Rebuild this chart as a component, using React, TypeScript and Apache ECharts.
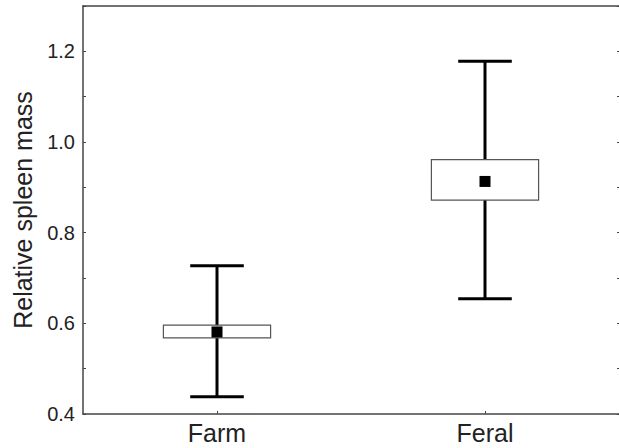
import React, { useEffect, useRef } from "react";
import * as echarts from "echarts";

const categories = ["Farm", "Feral"];
const whiskerLow = [0.438, 0.654];
const boxLow = [0.568, 0.872];
const meanValue = [0.581, 0.913];
const boxHigh = [0.596, 0.961];
const whiskerHigh = [0.727, 1.178];
const yTicks = [0.4, 0.6, 0.8, 1.0, 1.2];

export default function App() {
  const ref = useRef<HTMLDivElement>(null);
  useEffect(() => {
    if (!ref.current) return;
    const chart = echarts.init(ref.current, null, { renderer: "svg" });
    const data = categories.map((c, i) => [i, whiskerLow[i], boxLow[i], meanValue[i], boxHigh[i], whiskerHigh[i]]);
    const axisColor = "#444";
    const textColor = "#222";
    const font = "Liberation Sans";
    chart.setOption({
      animation: false,
      backgroundColor: "#fff",
      grid: { left: 83, right: 0, top: 6, bottom: 34 },
      xAxis: [
        {
          type: "category",
          data: categories,
          position: "bottom",
          boundaryGap: true,
          axisLine: { show: true, lineStyle: { color: axisColor, width: 1.5 } },
          axisTick: { show: true, inside: true, alignWithLabel: true, length: 3, lineStyle: { color: axisColor } },
          axisLabel: { color: textColor, fontFamily: font, fontSize: 25, margin: 6 },
          splitLine: { show: false },
        },
        {
          type: "category",
          data: categories,
          position: "top",
          axisLine: { show: true, lineStyle: { color: axisColor, width: 1.5 } },
          axisTick: { show: false },
          axisLabel: { show: false },
        },
      ],
      yAxis: [
        {
          type: "value",
          min: 0.4,
          max: 1.3,
          interval: 0.1,
          position: "left",
          name: "Relative spleen mass",
          nameLocation: "middle",
          nameGap: 48,
          nameTextStyle: { color: textColor, fontFamily: font, fontSize: 25 },
          axisLine: { show: true, lineStyle: { color: axisColor, width: 1.5 } },
          axisTick: { show: true, inside: true, length: 3, lineStyle: { color: axisColor } },
          axisLabel: {
            color: textColor,
            fontFamily: font,
            fontSize: 20,
            margin: 8,
            formatter: (v: number) => {
              const t = Math.round(v * 10);
              return yTicks.some((y) => Math.round(y * 10) === t) ? (t / 10).toFixed(1) : "";
            },
          },
          splitLine: { show: false },
        },
        {
          type: "value",
          min: 0.4,
          max: 1.3,
          interval: 0.1,
          position: "right",
          axisLine: { show: false },
          axisTick: { show: true, inside: true, length: 2, lineStyle: { color: axisColor } },
          axisLabel: { show: false },
          splitLine: { show: false },
        },
      ],
      series: [
        {
          type: "custom",
          xAxisIndex: 0,
          yAxisIndex: 0,
          data,
          renderItem: (params: any, api: any) => {
            const x = api.value(0);
            const bw = api.size([1, 0])[0];
            const boxW = bw * 0.4;
            const capW = bw * 0.2;
            const pLow = api.coord([x, api.value(1)]);
            const pBoxLow = api.coord([x, api.value(2)]);
            const pMean = api.coord([x, api.value(3)]);
            const pBoxHigh = api.coord([x, api.value(4)]);
            const pHigh = api.coord([x, api.value(5)]);
            const cx = pLow[0];
            const lineStyle = { stroke: "#000", lineWidth: 3, fill: "none" };
            const ms = 11;
            return {
              type: "group",
              children: [
                { type: "line", shape: { x1: cx, y1: pLow[1], x2: cx, y2: pHigh[1] }, style: lineStyle },
                { type: "line", shape: { x1: cx - capW / 2, y1: pLow[1], x2: cx + capW / 2, y2: pLow[1] }, style: lineStyle },
                { type: "line", shape: { x1: cx - capW / 2, y1: pHigh[1], x2: cx + capW / 2, y2: pHigh[1] }, style: lineStyle },
                {
                  type: "rect",
                  shape: { x: cx - boxW / 2, y: pBoxHigh[1], width: boxW, height: pBoxLow[1] - pBoxHigh[1] },
                  style: { fill: "#fff", stroke: "#555", lineWidth: 1.2 },
                },
                {
                  type: "rect",
                  shape: { x: cx - ms / 2, y: pMean[1] - ms / 2, width: ms, height: ms },
                  style: { fill: "#000", stroke: "none" },
                },
              ],
            };
          },
        },
      ],
    });
    return () => chart.dispose();
  }, []);
  return <div ref={ref} style={{ position: "fixed", left: 0, top: 0, width: 619, height: 448 }} />;
}
